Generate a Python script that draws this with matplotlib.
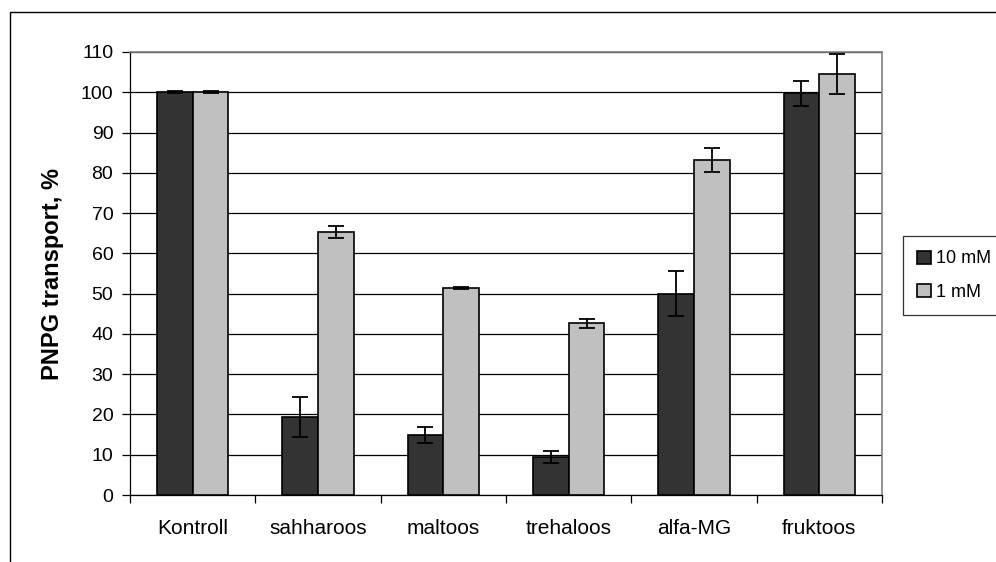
import matplotlib
matplotlib.use("Agg")
import matplotlib.pyplot as plt
import numpy as np
from matplotlib.patches import Rectangle

categories = ["Kontroll", "sahharoos", "maltoos", "trehaloos", "alfa-MG", "fruktoos"]
series_names = ["10 mM", "1 mM"]
vals_10 = [100, 19.4, 14.9, 9.4, 50.0, 99.7]
err_10 = [0.2, 5.0, 1.9, 1.5, 5.5, 3.2]
vals_1 = [100, 65.3, 51.4, 42.6, 83.1, 104.5]
err_1 = [0.2, 1.5, 0.3, 1.1, 3.0, 5.0]
yticks = list(range(0, 111, 10))

plt.rcParams['font.family'] = ['Liberation Sans', 'DejaVu Sans']

W, H = 996, 562
fig = plt.figure(figsize=(W/100, H/100), dpi=100)
ax = fig.add_axes([130/W, 1-495/H, (882-130)/W, (495-52)/H])

x = np.arange(len(categories))
bw = 1/3.5
ax.bar(x - bw/2, vals_10, bw, color='#333333', edgecolor='black', linewidth=1.2,
       yerr=err_10, error_kw=dict(ecolor='black', elinewidth=1.3, capsize=6, capthick=1.3),
       label=series_names[0], zorder=3)
ax.bar(x + bw/2, vals_1, bw, color='#c0c0c0', edgecolor='black', linewidth=1.2,
       yerr=err_1, error_kw=dict(ecolor='black', elinewidth=1.3, capsize=6, capthick=1.3),
       label=series_names[1], zorder=3)

ax.set_xlim(-0.5, len(categories) - 0.5)
ax.set_ylim(0, 110)
ax.set_yticks(yticks)
ax.set_yticklabels([str(v) for v in yticks], fontsize=14)
ax.yaxis.grid(True, color='black', linewidth=0.9, zorder=0)
ax.set_axisbelow(True)

ax.set_xticks(x)
ax.set_xticklabels(categories, fontsize=15)
ax.tick_params(axis='x', length=0, pad=17)
ax.set_xticks(np.arange(len(categories) + 1) - 0.5, minor=True)
ax.tick_params(axis='x', which='minor', length=6, width=0.9, direction='out')
ax.tick_params(axis='y', length=6, width=0.9, direction='out', pad=6)

for s in ['top', 'right']:
    ax.spines[s].set_color('#808080')
    ax.spines[s].set_linewidth(1.2)
for s in ['left', 'bottom']:
    ax.spines[s].set_color('black')
    ax.spines[s].set_linewidth(0.9)

ax.set_ylabel("PNPG transport, %", fontsize=17, fontweight='bold', labelpad=12)

leg = ax.legend(loc='upper left', bbox_to_anchor=(903/W, 1-236/H), bbox_transform=fig.transFigure,
                fontsize=13, frameon=True, fancybox=False, edgecolor='black',
                handlelength=0.75, handleheight=0.75, handletextpad=0.3, borderpad=0.8,
                labelspacing=0.9, borderaxespad=0)
leg.get_frame().set_linewidth(0.9)

fig.patches.append(Rectangle((10/W, -0.2), 2, 1 - 12/H + 0.2, transform=fig.transFigure,
                             fill=False, edgecolor='black', linewidth=1.0))

fig.savefig("out.png", dpi=100)
